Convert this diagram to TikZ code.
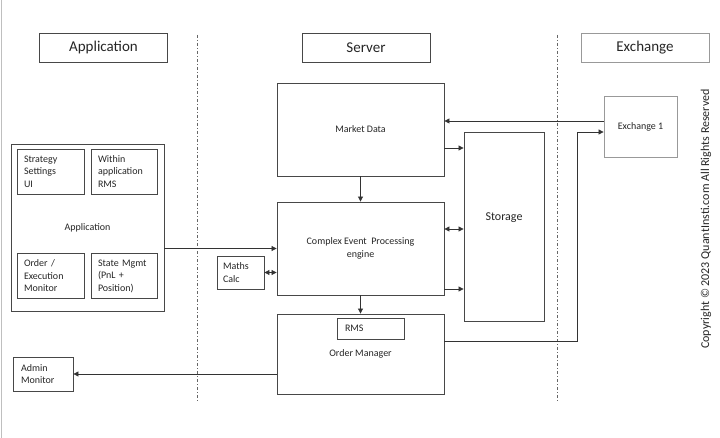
\documentclass[tikz,border=0pt]{standalone}
\usepackage{fontspec}
\setmainfont{Carlito}
\usetikzlibrary{arrows.meta, positioning}

\tikzset{
  box/.style={draw=black!72, line width=0.85bp, rectangle, inner sep=0pt, text=black!85,
    font=\fontsize{10bp}{12.5bp}\selectfont},
  cell/.style={box, minimum width=67bp, minimum height=45bp, text width=53bp, inner xsep=7bp, align=left},
  head/.style={draw=black!72, line width=0.85bp, minimum width=128bp, minimum height=29bp, text=black!85,
    font=\fontsize{15bp}{18bp}\selectfont},
  tri/.tip={Triangle[length=5bp,width=5bp]},
  link/.style={draw=black!80, line width=0.8bp, -tri},
  divider/.style={black!60, line width=0.8bp, dash pattern=on 3bp off 2bp on 1bp off 2bp}
}

\begin{document}
\begin{tikzpicture}[x=1bp, y=-1bp]
\useasboundingbox (0,0) rectangle (720,438);
\fill[white] (0,0) rectangle (720,438);
\draw[black!25, line width=1bp] (1.5,0) -- (1.5,438);

% column headings
\node[head] (hApp) at (103.5,47.5) {Application};
\node[head] (hSrv) at (366,47.5) {Server};
\node[head, draw=black!40] (hExc) at (645,47.5) {Exchange};
\foreach \x in {197,557}
  \draw[divider] (\x,35) -- (\x,403);

% application side
\node[box, minimum width=153bp, minimum height=167bp] (app) at (87.5,227.5) {Application};
\node[cell] (strat) at (50.5,171.5) {Strategy\\Settings\\UI};
\node[cell, minimum width=66bp, text width=52bp] (within) at (124,171.5) {Within\\application\\RMS};
\node[cell] (order) at (50.5,276) {Order /\\Execution\\Monitor};
\node[cell, minimum width=66bp, text width=52bp] (state) at (124,276) {State Mgmt\\(PnL +\\Position)};
\node[box, minimum width=60bp, minimum height=34bp, text width=44bp, inner xsep=8bp, align=left] (admin) at (43,374) {Admin\\Monitor};

% server side
\node[box, minimum width=167bp, minimum height=93bp] (md) at (360.5,129.5) {Market Data};
\node[box, minimum width=167bp, minimum height=93bp, align=center] (cep) at (360.5,248.5) {Complex Event\ \ Processing\\engine};
\node[box, minimum width=47bp, minimum height=33bp, text width=35bp, inner xsep=6bp, align=left] (maths) at (240.5,272.5) {Maths\\Calc};
\node[box, minimum width=80bp, minimum height=189bp,
  label={[yshift=8.5bp, font=\fontsize{12bp}{14bp}\selectfont, text=black!85]center:Storage}] (store) at (504,226.5) {};
\node[box, minimum width=167bp, minimum height=80bp] (om) at (360.5,354) {Order Manager};
\node[box, minimum width=67bp, minimum height=21bp, text width=51bp, inner xsep=8bp, align=left] (rms) at (370.5,328.5) {RMS};

% exchange side
\node[box, draw=black!40, minimum width=73bp, minimum height=61bp] (exch) at (640.5,126.5) {Exchange 1};
\node[rotate=90, text=black!85, font=\fontsize{12bp}{14bp}\selectfont] (copy) at (706,219) {Copyright © 2023 QuantInsti.com All Rights Reserved};

% connectors
\draw[link] (md) -- (cep);
\draw[link] (cep) -- (om);
\draw[link] (app.east |- cep.west) -- (cep.west);
\draw[link, tri-tri] (maths.east) -- (maths.east -| cep.west);
\draw[link] ([yshift=-18.5bp]md.east) -- ([yshift=-18.5bp]md.east -| store.west);
\draw[link, tri-tri] ([yshift=19.5bp]cep.east) -- ([yshift=19.5bp]cep.east -| store.west);
\draw[link] ([yshift=-40.5bp]cep.east) -- ([yshift=-40.5bp]cep.east -| store.west);
\draw[link] ([yshift=5.5bp]exch.west) -- ([yshift=5.5bp]exch.west -| md.east);
\coordinate (bend) at (577,341);
\draw[link] (om.east |- bend) -- (bend) |- ([yshift=-5.5bp]exch.west);
\draw[link] (om.west |- admin.east) -- (admin.east);
\end{tikzpicture}
\end{document}
